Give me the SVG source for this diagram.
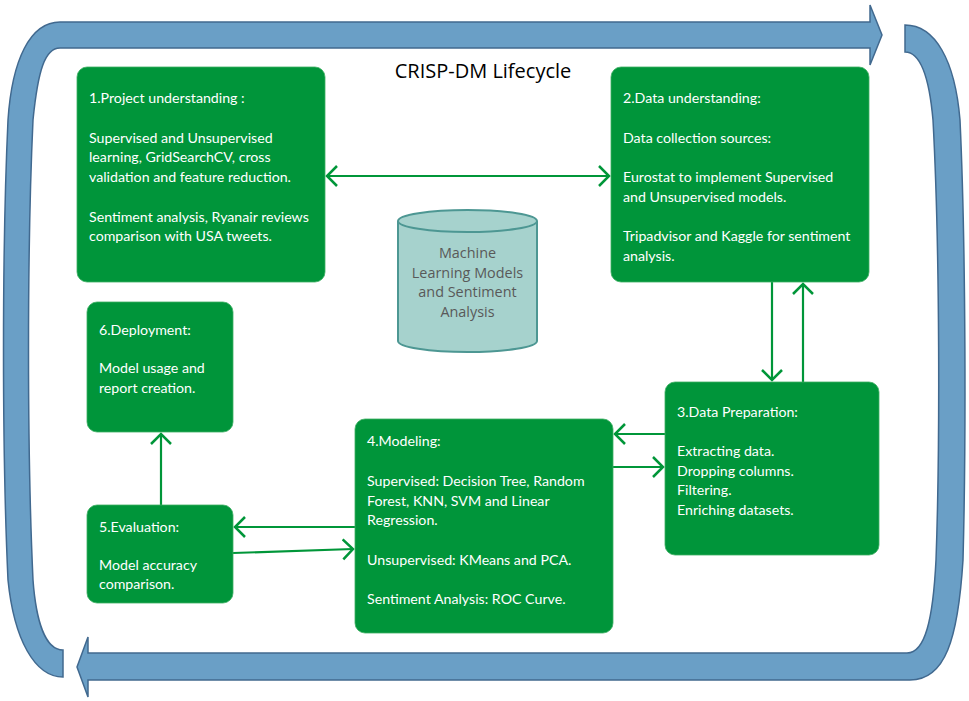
<svg xmlns="http://www.w3.org/2000/svg" width="969" height="701" viewBox="0 0 969 701">
<style>
.loop{fill:#6a9fc6;stroke:#41698f;stroke-width:1.5}
.box{fill:#00953a;stroke:#3caf62;stroke-width:0.8}
.t{font-family:Lato,"Liberation Sans",sans-serif;font-size:14.2px;fill:#ffffff}
.title{font-family:"Open Sans","DejaVu Sans",sans-serif;font-size:20px;fill:#000000}
.ct{font-family:"Open Sans","DejaVu Sans",sans-serif;font-size:14.4px;fill:#595959;text-anchor:middle}
.c{fill:none;stroke:#009639;stroke-width:2.2}
</style>
<defs>
<marker id="ah" markerUnits="userSpaceOnUse" markerWidth="14" markerHeight="24" viewBox="0 0 14 24" refX="11" refY="12" orient="auto-start-reverse">
<path d="M1,2 L11,12 L1,22" fill="none" stroke="#009639" stroke-width="2.5"/>
</marker>
</defs>
<g id="loop-top">
<path class="loop" d="M63,677 C35,677 14,640 8,580 C2,450 2,250 8,120 C12,60 30,22 60,22 L870,22 L870,5 L882,35 L870,65 L870,48 L60,48 C45,48 38,70 33,120 C27,250 27,450 33,580 C36,620 45,650 63,650 Z"/>
</g>
<g id="loop-bottom">
<path class="loop" d="M905,25 C935,25 955,60 960,120 C966,250 966,450 963,560 C958,640 945,680 910,680 L88,680 L88,697 L77,667 L88,637 L88,653 L907,653 C925,653 933,620 936,560 C940,450 940,250 933,120 C929,75 920,52 905,52 Z"/>
</g>
<text class="title" x="483" y="78" text-anchor="middle">CRISP-DM Lifecycle</text>
<g id="connectors">
<line class="c" x1="327" y1="176" x2="609" y2="176" marker-start="url(#ah)" marker-end="url(#ah)"/>
<line class="c" x1="772" y1="282" x2="772" y2="380" marker-end="url(#ah)"/>
<line class="c" x1="803" y1="382" x2="803" y2="284" marker-end="url(#ah)"/>
<line class="c" x1="665" y1="434" x2="615" y2="434" marker-end="url(#ah)"/>
<line class="c" x1="613" y1="467" x2="663" y2="467" marker-end="url(#ah)"/>
<line class="c" x1="355" y1="527" x2="235" y2="527" marker-end="url(#ah)"/>
<line class="c" x1="233" y1="553" x2="353" y2="549" marker-end="url(#ah)"/>
<line class="c" x1="161" y1="505" x2="161" y2="434" marker-end="url(#ah)"/>
</g>
<g id="node1">
<rect class="box" x="77" y="67" width="248" height="215" rx="10"/>
<text class="t" x="89" y="103">1.Project understanding :</text>
<text class="t" x="89" y="142.5">Supervised and Unsupervised</text>
<text class="t" x="89" y="162">learning, GridSearchCV,  cross</text>
<text class="t" x="89" y="182">validation and feature reduction.</text>
<text class="t" x="89" y="221.5">Sentiment analysis, Ryanair reviews</text>
<text class="t" x="89" y="241">comparison with USA tweets.</text>
</g>
<g id="node2">
<rect class="box" x="611" y="67" width="258" height="215" rx="10"/>
<text class="t" x="623" y="103">2.Data understanding:</text>
<text class="t" x="623" y="142.5">Data collection sources:</text>
<text class="t" x="623" y="182">Eurostat to implement Supervised</text>
<text class="t" x="623" y="201.5">and Unsupervised models.</text>
<text class="t" x="623" y="241">Tripadvisor  and Kaggle for sentiment</text>
<text class="t" x="623" y="260.5">analysis.</text>
</g>
<g id="node-db">
<path d="M398,221 L398,341 A69.5,11 0 0 0 537,341 L537,221" fill="#a6d2cd" stroke="#4d9793" stroke-width="2"/>
<ellipse cx="467.5" cy="221" rx="69.5" ry="11" fill="#a6d2cd" stroke="#4d9793" stroke-width="2"/>
<text class="ct" x="467.5" y="258">Machine</text>
<text class="ct" x="467.5" y="278">Learning Models</text>
<text class="ct" x="467.5" y="297">and Sentiment</text>
<text class="ct" x="467.5" y="317">Analysis</text>
</g>
<g id="node3">
<rect class="box" x="665" y="382" width="214" height="173" rx="10"/>
<text class="t" x="677" y="417">3.Data Preparation:</text>
<text class="t" x="677" y="456">Extracting data.</text>
<text class="t" x="677" y="475.5">Dropping columns.</text>
<text class="t" x="677" y="495">Filtering.</text>
<text class="t" x="677" y="514.5">Enriching datasets.</text>
</g>
<g id="node4">
<rect class="box" x="355" y="419" width="258" height="214" rx="10"/>
<text class="t" x="367" y="446">4.Modeling:</text>
<text class="t" x="367" y="486">Supervised: Decision Tree,  Random</text>
<text class="t" x="367" y="505.5">Forest, KNN, SVM and Linear</text>
<text class="t" x="367" y="525">Regression.</text>
<text class="t" x="367" y="564.5">Unsupervised: KMeans and PCA.</text>
<text class="t" x="367" y="604">Sentiment Analysis: ROC Curve.</text>
</g>
<g id="node5">
<rect class="box" x="87" y="505" width="146" height="98" rx="10"/>
<text class="t" x="99" y="532">5.Evaluation:</text>
<text class="t" x="99" y="570">Model accuracy</text>
<text class="t" x="99" y="589">comparison.</text>
</g>
<g id="node6">
<rect class="box" x="87" y="302" width="146" height="130" rx="10"/>
<text class="t" x="99" y="335">6.Deployment:</text>
<text class="t" x="99" y="373">Model usage and</text>
<text class="t" x="99" y="392.5">report creation.</text>
</g>
</svg>
